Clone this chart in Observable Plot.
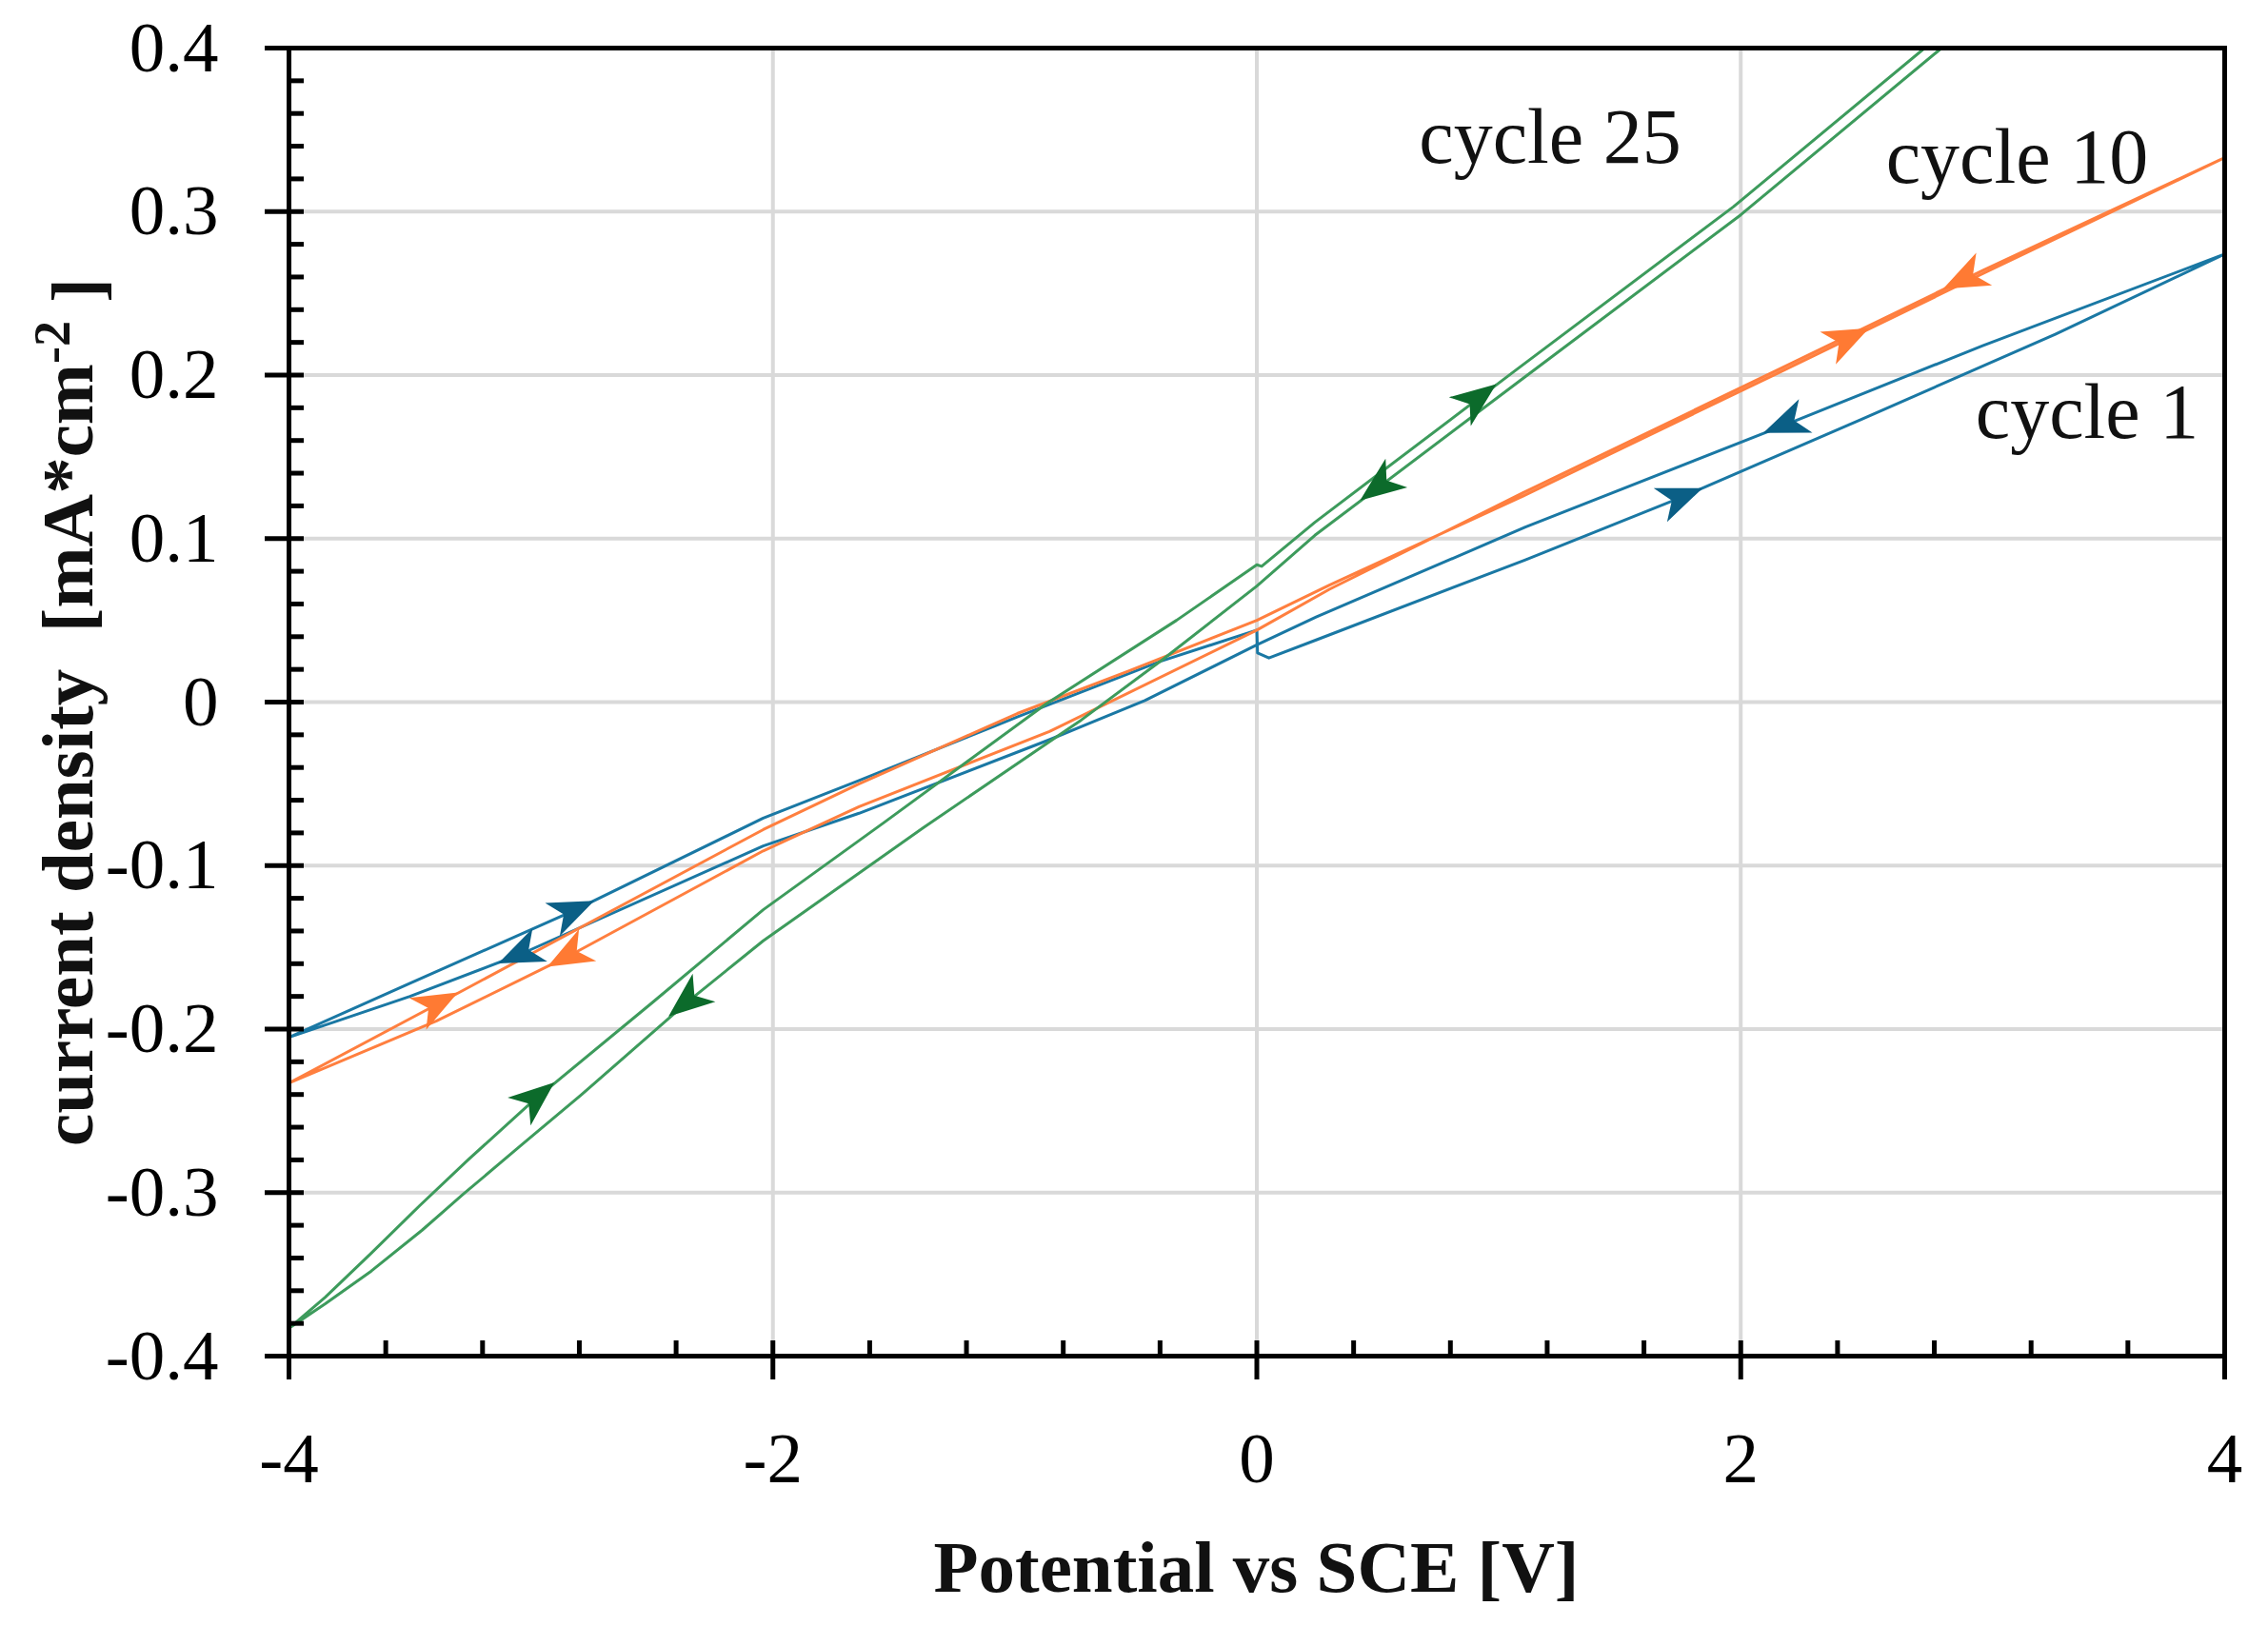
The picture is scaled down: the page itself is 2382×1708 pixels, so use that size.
<!DOCTYPE html>
<html>
<head>
<meta charset="utf-8">
<script src="https://cdn.jsdelivr.net/npm/d3@7"></script>
<script src="https://cdn.jsdelivr.net/npm/@observablehq/plot@0.6"></script>
<style>
  html, body { margin: 0; padding: 0; background: #fff; }
</style>
</head>
<body>
<div id="chart"></div>
<script>
// ---------- data ----------
const cycleNames  = ["cycle 1", "cycle 10", "cycle 25"];
const lineColors  = ["#1a78a4", "#ff7f3f", "#3d9b5c"];
const arrowColors = ["#0b5f86", "#ff7a33", "#0c6b2b"];

// cycle 1: forward (0 -> +4), reverse (+4 -> -4), return (-4 -> 0)  [x V, y mA*cm^-2]
const cycle1Forward = [[0.0,0.044],[0.003,0.030],[0.05,0.027],[0.245,0.038],[1.11,0.087],[1.75,0.125],[2.5,0.173],[3.3,0.225],[4.0,0.274]];
const cycle1Reverse = [[4.0,0.274],[3.0,0.218],[2.19,0.170],[1.11,0.107],[0.245,0.052],[0.0,0.035],[-0.463,0.001],[-0.857,-0.023],[-1.644,-0.068],[-2.04,-0.088],[-3.04,-0.154],[-3.5,-0.180],[-4.0,-0.205]];
const cycle1Return  = [[-4.0,-0.205],[-3.5,-0.172],[-2.83,-0.128],[-2.04,-0.071],[-1.644,-0.048],[-0.988,-0.009],[-0.398,0.025],[0.0,0.044]];

// cycle 10
const cycle10Forward = [[0.0,0.050],[0.3,0.0715],[1.1,0.126],[2.15,0.201],[3.0,0.262],[4.0,0.333]];
const cycle10Reverse = [[4.0,0.333],[3.0,0.264],[2.15,0.203],[1.1,0.128],[0.3,0.069],[0.0,0.044],[-0.857,-0.018],[-1.644,-0.064],[-2.04,-0.091],[-2.84,-0.155],[-3.39,-0.195],[-4.0,-0.233]];
const cycle10Return  = [[-4.0,-0.233],[-3.39,-0.185],[-2.04,-0.078],[-1.644,-0.050],[-0.99,-0.007],[-0.53,0.019],[0.0,0.050]];

// cycle 25 (runs beyond the top of the frame, clipped)
const cycle25Forward = [[0.0,0.084],[0.02,0.083],[0.24,0.110],[1.07,0.203],[1.97,0.303],[2.76,0.400],[4.0,0.555]];
const cycle25Reverse = [[4.0,0.555],[2.83,0.400],[2.0,0.298],[1.1,0.198],[0.24,0.102],[0.0,0.071],[-0.385,0.0265],[-0.726,-0.011],[-1.38,-0.077],[-2.04,-0.146],[-2.35,-0.183],[-2.79,-0.240],[-3.04,-0.271],[-3.28,-0.301],[-3.45,-0.323],[-3.66,-0.348],[-3.85,-0.368],[-4.0,-0.383]];
const cycle25Return  = [[-4.0,-0.383],[-3.85,-0.364],[-3.66,-0.337],[-3.46,-0.308],[-3.26,-0.280],[-3.0,-0.245],[-2.5,-0.184],[-2.04,-0.127],[-1.54,-0.0736],[-0.87,-0.001],[-0.332,0.050],[0.0,0.084]];

// direction arrows: cycle index, branch, potential at which the arrowhead sits
const arrowSpecs = [
  {cycle: 0, branch: "forward", x: 1.75},
  {cycle: 0, branch: "reverse", x: 2.19},
  {cycle: 0, branch: "reverse", x: -3.04},
  {cycle: 0, branch: "return",  x: -2.83},
  {cycle: 1, branch: "forward", x: 2.44},
  {cycle: 1, branch: "reverse", x: 2.93},
  {cycle: 1, branch: "reverse", x: -2.84},
  {cycle: 1, branch: "return",  x: -3.39},
  {cycle: 2, branch: "forward", x: 0.91},
  {cycle: 2, branch: "reverse", x: 0.51},
  {cycle: 2, branch: "reverse", x: -2.35},
  {cycle: 2, branch: "return",  x: -2.98}
];

// annotations
const labelTexts = ["cycle 25", "cycle 10", "cycle 1"];
const labelX = [0.67, 2.60, 2.97];
const labelY = [0.345, 0.333, 0.177];

// axes
const xMajorTicks = [-4, -2, 0, 2, 4];
const xMinorTicks = [-3.6,-3.2,-2.8,-2.4,-1.6,-1.2,-0.8,-0.4,0.4,0.8,1.2,1.6,2.4,2.8,3.2,3.6];
const yMajorTicks = [-0.4,-0.3,-0.2,-0.1,0,0.1,0.2,0.3,0.4];
const yMinorTicks = d3.range(-40, 41, 2).filter(v => v % 10 !== 0).map(v => v / 100);
const xGridLines = [-2, 0, 2];
const yGridLines = [-0.3,-0.2,-0.1,0,0.1,0.2,0.3];
const xAxisLabel = "Potential vs SCE [V]";

// ---------- build tables ----------
const branches = [
  {forward: cycle1Forward,  reverse: cycle1Reverse,  return: cycle1Return},
  {forward: cycle10Forward, reverse: cycle10Reverse, return: cycle10Return},
  {forward: cycle25Forward, reverse: cycle25Reverse, return: cycle25Return}
];
const cycleRows = branches.map((b, c) =>
  [...b.forward, ...b.reverse.slice(1), ...b.return.slice(1)].map(([x, y], i) => ({cycle: cycleNames[c], i, x, y}))
);
const labels = labelTexts.map((text, i) => ({text, x: labelX[i], y: labelY[i]}));

// ---------- layout ----------
const W = 2382, H = 1708;
const mL = 303, mR = 46, mT = 50, mB = 284;
const plotW = W - mL - mR, plotH = H - mT - mB;
const FONT = "'Liberation Serif', 'Times New Roman', serif";

function arrowMark(index, scales) {
  const g = d3.create("svg:g");
  for (const a of arrowSpecs) {
    const pts = branches[a.cycle][a.branch];
    let i = 0;
    for (; i < pts.length - 2; i++) {
      if ((a.x - pts[i][0]) * (a.x - pts[i + 1][0]) <= 0) break;
    }
    const [x0, y0] = pts[i], [x1, y1] = pts[i + 1];
    const t = (a.x - x0) / (x1 - x0);
    const yv = y0 + t * (y1 - y0);
    const px = scales.x(a.x), py = scales.y(yv);
    const ang = Math.atan2(scales.y(y1) - scales.y(y0), scales.x(x1) - scales.x(x0)) * 180 / Math.PI;
    g.append("path")
      .attr("d", "M26,0L-22,-19L-9,0L-22,19Z")
      .attr("fill", arrowColors[a.cycle])
      .attr("transform", `translate(${px},${py}) rotate(${ang})`);
  }
  return g.node();
}

const chart = Plot.plot({
  width: W,
  height: H,
  marginLeft: mL,
  marginRight: mR,
  marginTop: mT,
  marginBottom: mB,
  style: {fontFamily: FONT, background: "white", color: "black", overflow: "visible"},
  x: {domain: [-4, 4]},
  y: {domain: [-0.4, 0.4]},
  marks: [
    Plot.ruleY(yGridLines, {y: d => d, stroke: "#d9d9d9", strokeWidth: 4}),
    Plot.ruleX(xGridLines, {x: d => d, stroke: "#d9d9d9", strokeWidth: 4}),
    ...cycleRows.map((rows, c) =>
      Plot.line(rows, {x: "x", y: "y", stroke: lineColors[c], strokeWidth: 3, clip: true, curve: "linear"})
    ),
    arrowMark,
    Plot.text(labels, {x: "x", y: "y", text: "text", textAnchor: "start", fontSize: 82, fill: "#111"}),
    // ticks
    Plot.tickX(xMinorTicks, {x: d => d, stroke: "black", strokeWidth: 5, insetTop: plotH - 16}),
    Plot.tickX(xMajorTicks, {x: d => d, stroke: "black", strokeWidth: 5, insetTop: plotH - 16, insetBottom: -25}),
    Plot.tickY(yMinorTicks, {y: d => d, stroke: "black", strokeWidth: 5, insetRight: plotW - 16}),
    Plot.tickY(yMajorTicks, {y: d => d, stroke: "black", strokeWidth: 5, insetRight: plotW - 16, insetLeft: -25}),
    Plot.frame({stroke: "black", strokeWidth: 5}),
    Plot.axisX({ticks: xMajorTicks, tickSize: 0, tickPadding: 79, fontSize: 75, label: null, tickFormat: d => String(d)}),
    Plot.axisY({ticks: yMajorTicks, tickSize: 0, tickPadding: 74, fontSize: 75, label: null, tickFormat: d => String(d)})
  ]
});

// axis titles
const svg = d3.select(chart);
svg.append("text")
  .attr("x", mL + plotW / 2)
  .attr("y", 1672)
  .attr("text-anchor", "middle")
  .attr("font-family", FONT)
  .attr("font-weight", "bold")
  .attr("font-size", 77)
  .attr("fill", "#111")
  .text(xAxisLabel);

const yl = svg.append("text")
  .attr("transform", "translate(97,748) rotate(-90)")
  .attr("text-anchor", "middle")
  .attr("font-family", FONT)
  .attr("font-weight", "bold")
  .attr("font-size", 77)
  .attr("fill", "#111");
yl.append("tspan").text("current density\u00a0 [mA*cm");
yl.append("tspan").attr("dy", "-0.45em").attr("font-size", 54).text("-2");
yl.append("tspan").attr("dy", "0.45em").text("\u00a0]");

document.getElementById("chart").appendChild(chart);
</script>
</body>
</html>
